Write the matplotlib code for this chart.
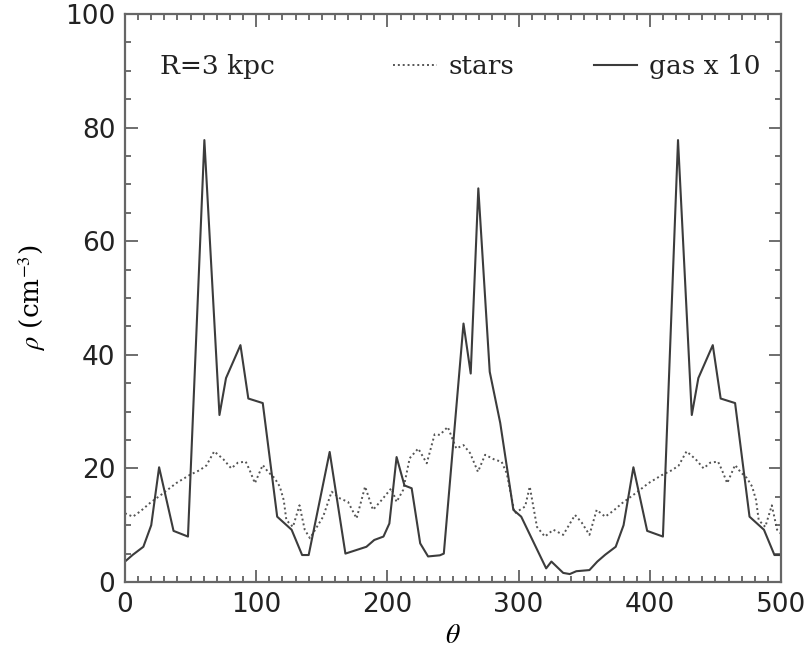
import matplotlib
matplotlib.use("Agg")
import matplotlib.pyplot as plt
from matplotlib.ticker import MultipleLocator

# gas density (x 10) along azimuth
gas_theta = [0, 6, 14, 20, 26, 37, 48, 60.5, 72, 77, 88, 94, 105, 116, 127, 135, 140,
             156, 168, 184, 190, 197, 201.5, 207, 213, 218.5, 225, 231, 240, 243, 258,
             263.5, 269.3, 278, 286, 296, 302, 321, 325, 334, 339, 344, 354, 360,
             366, 374, 380, 387.5, 398, 410, 421.5, 432, 437, 448, 454, 465, 476,
             487, 495, 500]
gas_rho = [3.6, 4.8, 6.2, 10, 20.2, 9, 8, 77.8, 29.4, 35.9, 41.7, 32.3, 31.5, 11.5, 9.2, 4.75, 4.75,
           22.9, 5, 6.2, 7.4, 8, 10.3, 22, 17, 16.5, 6.8, 4.5, 4.7, 5, 45.5,
           36.7, 69.3, 37, 28, 12.7, 11.5, 2.4, 3.6, 1.6, 1.4, 1.9, 2.1, 3.6,
           4.8, 6.2, 10, 20.2, 9, 8, 77.8, 29.4, 35.9, 41.7, 32.3, 31.5, 11.5,
           9.2, 4.75, 4.75]

# stellar density
star_theta = [0, 6, 12, 19, 29, 39, 49, 57, 62, 68, 75, 81, 86, 92, 95, 99, 105, 109,
              114, 118, 121, 123, 128, 133, 137, 141, 151, 157.5, 164, 170, 176.5,
              183, 189, 195.5, 203, 207, 212, 217, 223.5, 230, 236, 240, 246, 252.5,
              258, 263, 269, 274.5, 282, 287, 291, 297, 305, 308.5, 314, 320, 326.5,
              334, 343, 348, 354, 359.5, 366, 372, 379, 389, 399, 409, 417, 422,
              428, 435, 441, 446, 452, 455, 459, 465, 469, 474, 478, 481, 483, 488,
              493, 497, 500]
star_rho = [12.1, 11.5, 12.5, 13.9, 15.6, 17.4, 18.8, 19.7, 20.5, 23.0, 21.6, 20.0, 21.0,
            21.2, 19.7, 17.4, 20.6, 19.4, 18.3, 16.8, 14.4, 10.9, 9.7, 13.5, 9.2, 7.7,
            11.5, 15.9, 14.7, 14.1, 11.2, 16.8, 12.7, 14.4, 16.5, 14.1, 16.2, 21.8,
            23.5, 20.9, 26.0, 25.9, 27.3, 23.5, 24.1, 22.7, 19.4, 22.4, 21.5, 21.2,
            19.1, 12.1, 13.3, 16.8, 9.7, 8.0, 9.2, 8.3, 11.8, 10.5, 8.3, 12.7, 11.5,
            12.5, 13.9, 15.6, 17.4, 18.8, 19.7, 20.5, 23.0, 21.6, 20.0, 21.0, 21.2,
            19.7, 17.4, 20.6, 19.4, 18.3, 16.8, 14.4, 10.9, 9.7, 13.5, 9.2, 8.5]

plt.rcParams['mathtext.fontset'] = 'stix'
ink = '#3c3c3c'

fig = plt.figure(figsize=(8.09, 6.56), dpi=100)
ax = fig.add_axes([0.1545, 0.1128, 0.8109, 0.8659])

l_star, = ax.plot(star_theta, star_rho, color='#555555', lw=1.4, linestyle=(0, (1, 1.5)))
l_gas, = ax.plot(gas_theta, gas_rho, color=ink, lw=1.5)

ax.set_xlim(0, 500)
ax.set_ylim(0, 100)
ax.xaxis.set_major_locator(MultipleLocator(100))
ax.xaxis.set_minor_locator(MultipleLocator(10))
ax.yaxis.set_major_locator(MultipleLocator(20))
ax.yaxis.set_minor_locator(MultipleLocator(5))
ax.tick_params(which='both', direction='in', top=True, right=True, color='#555555',
               width=1.2, labelsize=19, labelcolor='#222222')
ax.tick_params(which='major', length=9, pad=7)
ax.tick_params(which='minor', length=4.5)
for s in ax.spines.values():
    s.set_color('#666666')
    s.set_linewidth(1.6)

ax.set_xlabel(r'$\theta$', fontsize=20, labelpad=2)
ax.set_ylabel(r'$\rho$ (cm$^{-3}$)', fontsize=19, family='DejaVu Serif', labelpad=12)

ax.text(0.054, 0.907, 'R=3 kpc', transform=ax.transAxes, family='DejaVu Serif',
        fontsize=19, va='center', color='#222222')
leg = ax.legend([l_star, l_gas], ['stars', 'gas x 10'], ncol=2, frameon=False,
                loc='center right', bbox_to_anchor=(0.985, 0.907),
                prop={'family': 'DejaVu Serif', 'size': 19},
                handlelength=1.65, handletextpad=0.45, columnspacing=3.0,
                borderaxespad=0, labelcolor='#222222')

fig.savefig('out.png', dpi=100)
